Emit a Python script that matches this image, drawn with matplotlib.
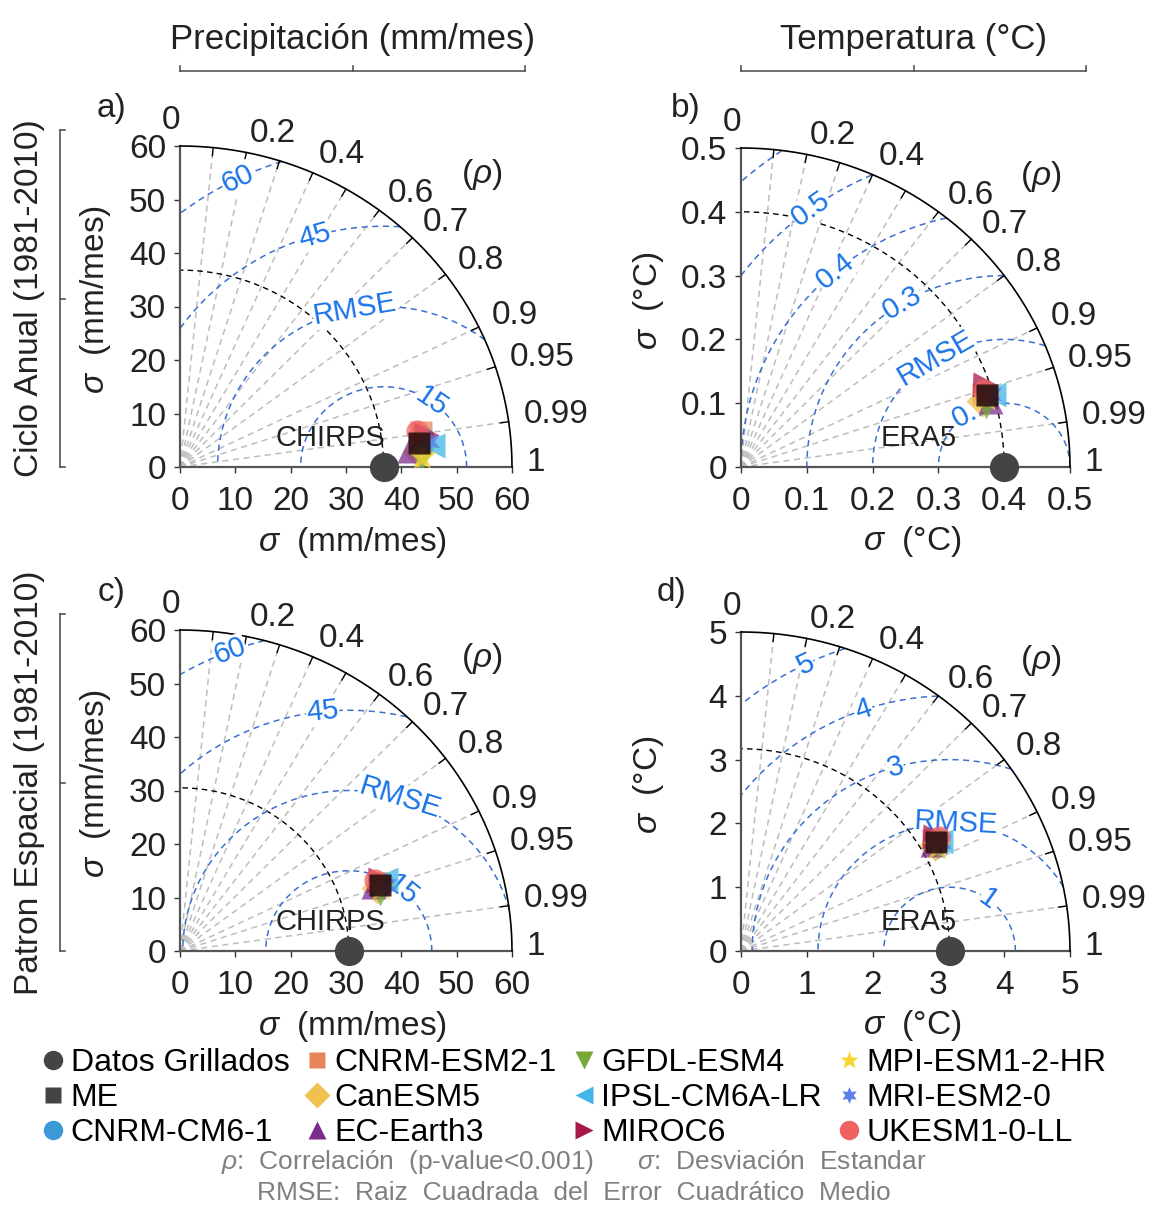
import numpy as np
import matplotlib
matplotlib.use('Agg')
import matplotlib.pyplot as plt
from matplotlib.lines import Line2D

plt.rcParams['font.family'] = ['Liberation Sans', 'DejaVu Sans']
plt.rcParams['mathtext.fontset'] = 'custom'
plt.rcParams['mathtext.it'] = 'Liberation Sans:italic'
plt.rcParams['mathtext.rm'] = 'Liberation Sans'

# ---------------- data ----------------
models = ['CNRM-CM6-1', 'CNRM-ESM2-1', 'CanESM5', 'EC-Earth3', 'GFDL-ESM4',
          'IPSL-CM6A-LR', 'MIROC6', 'MPI-ESM1-2-HR', 'MRI-ESM2-0', 'UKESM1-0-LL']
model_markers = ['o', 's', 'D', '^', 'v', '<', '>', '*', (6, 1, 0), 'o']
model_colors = ['#3b9ad6', '#e8845a', '#f0c050', '#7b2d8e', '#79a83a',
                '#42b6e6', '#a8174a', '#f8d534', '#5b7fe8', '#f06262']

# (a) Precipitation, annual cycle
a_ref = 36.8
a_std = [44.3, 44.0, 43.1, 41.6, 43.5, 45.7, 44.9, 43.8, 45.1, 43.3]
a_corr = [0.992, 0.989, 0.998, 0.997, 0.9994, 0.996, 0.991, 0.999, 0.994, 0.988]
a_me = (43.4, 0.9947)
# (b) Temperature, annual cycle
b_ref = 0.40
b_std = [0.392, 0.385, 0.380, 0.392, 0.384, 0.400, 0.392, 0.388, 0.395, 0.389]
b_corr = [0.955, 0.955, 0.962, 0.965, 0.968, 0.958, 0.945, 0.960, 0.957, 0.950]
b_me = (0.3905, 0.9577)
# (c) Precipitation, spatial pattern
c_ref = 30.5
c_std = [38.8, 38.0, 37.5, 37.0, 37.8, 39.5, 38.5, 38.2, 39.0, 37.6]
c_corr = [0.945, 0.942, 0.950, 0.945, 0.958, 0.940, 0.938, 0.952, 0.948, 0.935]
c_me = (38.23, 0.947)
# (d) Temperature, spatial pattern
d_ref = 3.17
d_std = [3.45, 3.40, 3.38, 3.35, 3.42, 3.48, 3.44, 3.40, 3.47, 3.50]
d_corr = [0.862, 0.858, 0.872, 0.865, 0.875, 0.868, 0.855, 0.878, 0.870, 0.860]
d_me = (3.42, 0.866)

a_ticks = [0, 10, 20, 30, 40, 50, 60]
b_ticks = [0, 0.1, 0.2, 0.3, 0.4, 0.5]
c_ticks = [0, 10, 20, 30, 40, 50, 60]
d_ticks = [0, 1, 2, 3, 4, 5]

a_rms = [15, 30, 45, 60]
b_rms = [0.1, 0.2, 0.3, 0.4, 0.5, 0.6]
c_rms = [15, 30, 45, 60]
d_rms = [1, 2, 3, 4, 5]

a_rms_labels = ['15', 'RMSE', '45', '60']
b_rms_labels = ['0.1', 'RMSE', '0.3', '0.4', '0.5', None]
c_rms_labels = ['15', 'RMSE', '45', '60']
d_rms_labels = ['1', 'RMSE', '3', '4', '5']

label_corrs = [0, 0.2, 0.4, 0.6, 0.7, 0.8, 0.9, 0.95, 0.99, 1]
tick_corrs = [0.1, 0.2, 0.3, 0.4, 0.5, 0.6, 0.7, 0.8, 0.9, 0.95, 0.99]
radial_corrs = [0.1, 0.2, 0.3, 0.4, 0.5, 0.6, 0.7, 0.8, 0.9, 0.95, 0.99]

# ---------------- style ----------------
W, H = 1153, 1205
fig = plt.figure(figsize=(W / 100, H / 100), dpi=100)
BLUE_LINE = '#3b6fd0'
BLUE_TXT = '#1a74e8'
FS = 24


def px_axes(l, r, t, b):
    return fig.add_axes([l / W, 1 - b / H, (r - l) / W, (b - t) / H])


def fmt(c):
    if c == 0:
        return '0'
    if c == 1:
        return '1'
    return ('%g' % c)


def taylor(ax, R, ref, std, corr, me, ticks, rms, rms_labels, rms_angles,
           ref_name, ref_x, unit, tickfmt, ylab_x):
    ax.set_xlim(0, R)
    ax.set_ylim(0, R)
    for s in ['top', 'right']:
        ax.spines[s].set_visible(False)
    for s in ['left', 'bottom']:
        ax.spines[s].set_color('#555555')
        ax.spines[s].set_linewidth(1.6)
    ax.set_xticks(ticks)
    ax.set_yticks(ticks)
    ax.set_xticklabels([tickfmt(t) for t in ticks])
    ax.set_yticklabels([tickfmt(t) for t in ticks])
    ax.tick_params(direction='out', length=4, width=1, colors='#333333',
                   labelsize=FS, labelcolor='#222222')
    ax.tick_params(axis='x', pad=10)
    ax.tick_params(axis='y', pad=6)
    ax.patch.set_visible(False)

    th = np.linspace(0, np.pi / 2, 400)
    # radial correlation lines
    for c in radial_corrs:
        a = np.arccos(c)
        ax.plot([0, R * np.cos(a)], [0, R * np.sin(a)], color='#bdbdbd',
                lw=1.1, ls=(0, (4, 3)), zorder=1)
    # outer arc
    ax.plot(R * np.cos(th), R * np.sin(th), color='k', lw=1.2, zorder=3,
            clip_on=False)
    # arc ticks
    for c in tick_corrs:
        a = np.arccos(c)
        ax.plot([0.975 * R * np.cos(a), R * np.cos(a)],
                [0.975 * R * np.sin(a), R * np.sin(a)], color='k', lw=1,
                zorder=3)
    # correlation labels
    for c in label_corrs:
        a = np.arccos(c)
        if c == 0:
            ax.text(0, 1.03 * R, '0', ha='right', va='bottom', fontsize=FS,
                    color='#222222')
        else:
            ax.text(1.045 * R * np.cos(a), 1.045 * R * np.sin(a) + 0.015 * R,
                    fmt(c), ha='left', va='center', fontsize=FS,
                    color='#222222')
    ax.text(0.91 * R, 0.91 * R, r'($\rho$)', ha='center', va='center',
            fontsize=FS, color='#222222')
    # reference std arc
    ax.plot(ref * np.cos(th), ref * np.sin(th), color='k', lw=1.0,
            ls=(0, (4, 3)), zorder=2)
    # RMSE circles
    phi = np.linspace(0, np.pi, 800)
    for r, lab, ang in zip(rms, rms_labels, rms_angles):
        x = ref + r * np.cos(phi)
        y = r * np.sin(phi)
        m = (x >= 0) & (x ** 2 + y ** 2 <= R ** 2)
        ax.plot(np.where(m, x, np.nan), np.where(m, y, np.nan),
                color=BLUE_LINE, lw=1.1, ls=(0, (4, 3)), zorder=2)
        if lab is not None:
            t = np.deg2rad(ang)
            lx, ly = ref + r * np.cos(t), r * np.sin(t)
            p0 = ax.transData.transform((lx, ly))
            p1 = ax.transData.transform((lx - np.sin(t) * 0.01 * R,
                                         ly + np.cos(t) * 0.01 * R))
            rot = np.degrees(np.arctan2(p1[1] - p0[1], p1[0] - p0[0]))
            if rot > 90:
                rot -= 180
            if rot < -90:
                rot += 180
            ax.text(lx, ly, lab, rotation=rot, rotation_mode='anchor',
                    ha='center', va='center', fontsize=21, color=BLUE_TXT,
                    zorder=4,
                    bbox=dict(facecolor='white', edgecolor='none', pad=0.5))
    # reference
    ax.text(ref_x, 0.09 * R, ref_name, ha='center', va='center', fontsize=21,
            color='#222222', zorder=4)
    ax.plot([ref], [0], 'o', ms=21, color='#444444', clip_on=False, zorder=7,
            mec='none')
    # models
    for s, c, mk, col in zip(std, corr, model_markers, model_colors):
        a = np.arccos(c)
        ms = 21 if mk == '*' else (18 if mk in ('^', 'v', '<', '>') else 16)
        if mk == (6, 1, 0):
            ms = 19
        ax.plot([s * np.cos(a)], [s * np.sin(a)], marker=mk, ms=ms,
                color=col, mec='none', alpha=0.75, ls='none', zorder=5)
    a = np.arccos(me[1])
    ax.plot([me[0] * np.cos(a)], [me[0] * np.sin(a)], 's', ms=16.5,
            color='#2a1010', mec='none', alpha=0.9, zorder=6)
    # axis labels
    ax.text(0.52, -0.235, r'$\sigma$  ' + unit, transform=ax.transAxes,
            ha='center', va='center', fontsize=FS, color='#222222')
    ax.text(ylab_x, 0.52, r'$\sigma$  ' + unit, transform=ax.transAxes,
            rotation=90, ha='center', va='center', fontsize=FS,
            color='#222222')


ax_a = px_axes(180, 512, 146, 467)
ax_b = px_axes(741, 1070, 148, 467)
ax_c = px_axes(180, 512, 630, 951)
ax_d = px_axes(741, 1070, 632, 951)

ifmt = lambda t: '%d' % t
ffmt = lambda t: '0' if t == 0 else '%g' % t

taylor(ax_a, 60, a_ref, a_std, a_corr, a_me, a_ticks, a_rms, a_rms_labels,
       [55, 100, 106, 116], 'CHIRPS', 27.1, '(mm/mes)', ifmt, -0.255)
taylor(ax_b, 0.5, b_ref, b_std, b_corr, b_me, b_ticks, b_rms, b_rms_labels,
       [119, 121, 121, 130, 126, 0], 'ERA5', 0.27, '(°C)', ffmt, -0.28)
taylor(ax_c, 60, c_ref, c_std, c_corr, c_me, c_ticks, c_rms, c_rms_labels,
       [50, 72, 96, 111], 'CHIRPS', 27.1, '(mm/mes)', ifmt, -0.255)
taylor(ax_d, 5, d_ref, d_std, d_corr, d_me, d_ticks, d_rms, d_rms_labels,
       [54, 87, 106, 109, 116], 'ERA5', 2.7, '(°C)', ffmt, -0.28)

# panel letters
for lab, x, y in [('a)', 112, 108), ('b)', 686, 108), ('c)', 112, 593),
                  ('d)', 672, 593)]:
    fig.text(x / W, 1 - y / H, lab, ha='center', va='center', fontsize=FS,
             color='#222222')

# column headers with brackets
for txt, l, r in [('Precipitación (mm/mes)', 180, 525),
                  ('Temperatura (°C)', 741, 1086)]:
    fig.text((l + r) / 2 / W, 1 - 39 / H, txt, ha='center', va='center',
             fontsize=25, color='#222222')
    yy = 1 - 71 / H
    fig.add_artist(Line2D([l / W, r / W], [yy, yy], color='#555555', lw=1.2))
    for xx in [l, (l + r) / 2, r]:
        fig.add_artist(Line2D([xx / W, xx / W], [yy, yy + 5 / H],
                              color='#555555', lw=1.2))

# row headers with brackets
for txt, t, b in [('Ciclo Anual (1981-2010)', 130, 467),
                  ('Patron Espacial (1981-2010)', 614, 951)]:
    fig.text(30 / W, 1 - (t + b) / 2 / H, txt, rotation=90, ha='center',
             va='center', fontsize=FS, color='#222222')
    xx = 60 / W
    fig.add_artist(Line2D([xx, xx], [1 - t / H, 1 - b / H], color='#555555',
                          lw=1.2))
    for yy in [t, (t + b) / 2, b]:
        fig.add_artist(Line2D([xx, xx + 5 / W], [1 - yy / H, 1 - yy / H],
                              color='#555555', lw=1.2))

# legend
handles = [Line2D([], [], marker='o', color='#444444', ls='none', ms=14,
                  mec='none'),
           Line2D([], [], marker='s', color='#444444', ls='none', ms=11,
                  mec='none')]
labels = ['Datos Grillados', 'ME']
for m, mk, col in zip(models, model_markers, model_colors):
    ms = 14 if mk == '*' else (13 if mk in ('^', 'v', '<', '>', 'D') else 12)
    if mk == 'o':
        ms = 14
    if mk == 's':
        ms = 11
    handles.append(Line2D([], [], marker=mk, color=col, ls='none', ms=ms,
                          mec='none'))
    labels.append(m)
fig.legend(handles, labels, ncol=4, loc='center',
           bbox_to_anchor=(575 / W, 1 - 1098 / H), frameon=False,
           fontsize=23, handlelength=0.6, handletextpad=0.25,
           columnspacing=0.55, labelspacing=0.16, borderpad=0)

# footnotes
fig.text(574 / W, 1 - 1162 / H,
         r'$\rho$:  Correlación  (p-value<0.001)      $\sigma$:  Desviación  Estandar',
         ha='center', va='center', fontsize=19, color='#808080')
fig.text(574 / W, 1 - 1193 / H,
         'RMSE:  Raiz  Cuadrada  del  Error  Cuadrático  Medio',
         ha='center', va='center', fontsize=19, color='#808080')

fig.savefig('out.png', dpi=100)
